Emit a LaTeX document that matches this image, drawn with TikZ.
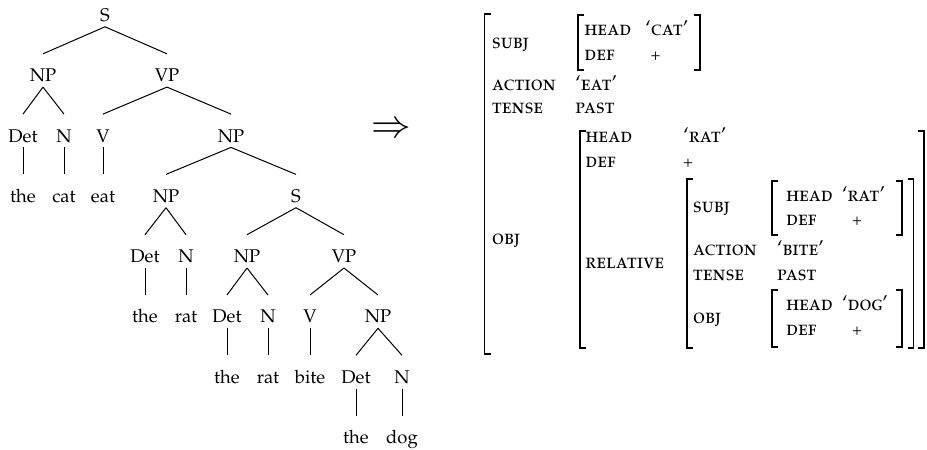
\documentclass[tikz,border=0pt]{standalone}
\usepackage[T1]{fontenc}
\usepackage[sc]{mathpazo}
\newcommand\avmL[3]{\draw[brk] ({#1+6},#2) -| (#1,#3) -- ({#1+6},#3);}
\newcommand\avmR[3]{\draw[brk] ({#1-6},#2) -| (#1,#3) -- ({#1-6},#3);}
\begin{document}
\begin{tikzpicture}[x=0.5pt,y=-0.5pt,
  tn/.style={anchor=base,inner sep=0pt,text height=13.75pt,text depth=2.5pt,font=\fontsize{9.2}{11}\selectfont},
  edge/.style={line width=0.5pt},
  av/.style={anchor=base west,inner sep=0pt,font=\fontsize{9.8}{11}\selectfont\scshape,yscale=1.08},
  avc/.style={anchor=base,inner sep=0pt,font=\fontsize{8.2}{9}\selectfont},
  brk/.style={line width=0.65pt}]
\useasboundingbox (0,0) rectangle (927,450);
% ---------- tree ----------
\node[tn] (s0)  at (105,21.4) {S};
\node[tn] (np1) at (43,81.7) {NP};
\node[tn] (vp1) at (167,81.7) {VP};
\node[tn] (det2) at (23,142) {Det};
\node[tn] (n2)  at (64,142) {N};
\node[tn] (v2)  at (103,142) {V};
\node[tn] (np2) at (231,142) {NP};
\node[tn] (the3) at (23,202.3) {the};
\node[tn] (cat3) at (64,202.3) {cat};
\node[tn] (eat3) at (103,202.3) {eat};
\node[tn] (np3) at (166,202.3) {NP};
\node[tn] (s3)  at (296,202.3) {S};
\node[tn] (det4) at (145,262.6) {Det};
\node[tn] (n4)  at (186,262.6) {N};
\node[tn] (np4) at (247,262.6) {NP};
\node[tn] (vp4) at (344,262.6) {VP};
\node[tn] (the5) at (145,322.9) {the};
\node[tn] (rat5) at (186,322.9) {rat};
\node[tn] (det5) at (227,322.9) {Det};
\node[tn] (n5)  at (268,322.9) {N};
\node[tn] (v5)  at (310,322.9) {V};
\node[tn] (np5) at (378,322.9) {NP};
\node[tn] (the6) at (227,383.2) {the};
\node[tn] (rat6) at (268,383.2) {rat};
\node[tn] (bite6) at (310,383.2) {bite};
\node[tn] (det6) at (356,383.2) {Det};
\node[tn] (n6)  at (402,383.2) {N};
\node[tn] (the7) at (356,443.5) {the};
\node[tn] (dog7) at (402,443.5) {dog};
\foreach \a/\b in {s0/np1,s0/vp1,np1/det2,np1/n2,vp1/v2,vp1/np2,det2/the3,n2/cat3,v2/eat3,
  np2/np3,np2/s3,np3/det4,np3/n4,s3/np4,s3/vp4,det4/the5,n4/rat5,np4/det5,np4/n5,vp4/v5,vp4/np5,
  det5/the6,n5/rat6,v5/bite6,np5/det6,np5/n6,det6/the7,n6/dog7}
  \draw[edge] (\a.south) -- (\b.north);
% ---------- arrow ----------
\node[inner sep=0pt,scale=1.9] (arr) at (391.7,130) {$\Rightarrow$};
% ---------- AVM ----------
\node[av] (a1) at (491.7,48) {subj};
\node[av] (a2) at (584,35) {head};
\node[av] (a3) at (645,35) {`cat'};
\node[av] (a4) at (584,60) {def};
\node[avc] (a5) at (655.7,60) {+};
\node[av] (a6) at (491.7,90) {action};
\node[av] (a7) at (575,90) {`eat'};
\node[av] (a8) at (491.7,113) {tense};
\node[av] (a9) at (575,113) {past};
\node[av] (a10) at (491.7,244) {obj};
\node[av] (a11) at (585,142) {head};
\node[av] (a12) at (683,142) {`rat'};
\node[av] (a13) at (585,167) {def};
\node[avc] (a14) at (688,167) {+};
\node[av] (a15) at (585,268) {relative};
\node[av] (a16) at (692.7,212) {subj};
\node[av] (a17) at (785.7,201) {head};
\node[av] (a18) at (841.7,201) {`rat'};
\node[av] (a19) at (785.7,225) {def};
\node[avc] (a20) at (857,225) {+};
\node[av] (a21) at (692.7,255) {action};
\node[av] (a22) at (776.7,255) {`bite'};
\node[av] (a23) at (692.7,280) {tense};
\node[av] (a24) at (776.7,280) {past};
\node[av] (a25) at (692.7,323) {obj};
\node[av] (a26) at (785.7,310) {head};
\node[av] (a27) at (841.7,310) {`dog'};
\node[av] (a28) at (785.7,335) {def};
\node[avc] (a29) at (857,335) {+};
% brackets
\avmL{484.5}{14}{354}
\avmL{578}{15}{70}
\avmR{700}{15}{70}
\avmL{580}{131}{348}
\avmR{924}{131}{348}
\avmL{687}{179}{348}
\avmR{913.5}{179}{348}
\avmL{772}{181}{235}
\avmR{902}{181}{235}
\avmL{772}{290}{347}
\avmR{902}{290}{347}
\end{tikzpicture}
\end{document}
